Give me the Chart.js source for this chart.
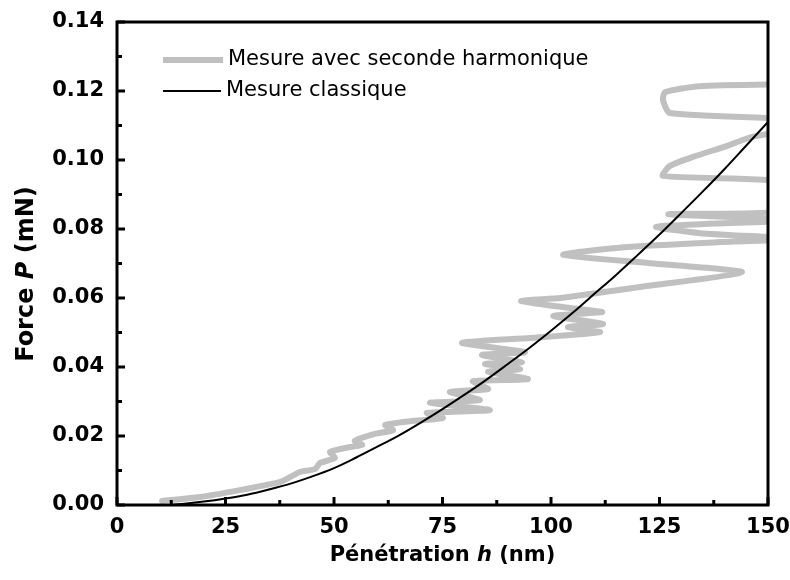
<!DOCTYPE html>
<html>
<head>
<meta charset="utf-8">
<script src="https://cdn.jsdelivr.net/npm/chart.js@4.4.1/dist/chart.umd.min.js"></script>
<style>
  html, body { margin: 0; padding: 0; background: #fff; }
</style>
</head>
<body>
<canvas id="chart" width="790" height="580"></canvas>
<script>
// axis ticks
const xTicks = [0, 25, 50, 75, 100, 125, 150];
const yTicks = [0, 0.02, 0.04, 0.06, 0.08, 0.10, 0.12, 0.14];

// "Mesure classique" (black curve)
const classicH = [12, 15, 20, 25, 30, 35, 40, 45, 50, 55, 60, 65, 70, 75, 80, 85, 90, 95,
                  100, 105, 110, 115, 120, 125, 130, 135, 140, 145, 150];
const classicP = [0.0000, 0.0003, 0.0010, 0.0019, 0.0030, 0.0045, 0.0062, 0.0083, 0.0107, 0.0137,
                  0.0169, 0.0202, 0.0239, 0.0278, 0.0319, 0.0362, 0.0408, 0.0455, 0.0505, 0.0557,
                  0.0612, 0.0667, 0.0725, 0.0784, 0.0846, 0.0909, 0.0974, 0.1042, 0.1110];

// "Mesure avec seconde harmonique" (grey curve), in time order
const harmH = [10.4, 19.1, 28.3, 37.6, 39.9, 42.2, 45.6, 46.8, 50.2, 49.1, 53.7, 56.5, 54.8, 59.4,
               63.6, 61.8, 67.5, 75.1, 71.4, 85.9, 72.1, 83.6, 76.7, 85.5, 82.0, 94.7, 85.5, 92.9,
               84.8, 93.3, 84.1, 94.0, 79.5, 95.2, 111.3, 103.9, 112.0, 100.5, 111.8, 104.4, 93.1,
               102.1, 120.5, 144.0, 122.8, 102.8, 117.5, 138.9, 157.4, 134.3, 124.2, 134.3, 157.4,
               127.0, 157.4, 157.4, 125.8, 127.4, 132.7, 140.6, 146.3, 157.4, 157.4, 127.4, 125.8,
               126.3, 134.3, 157.4];
const harmP = [0.0012, 0.0023, 0.0043, 0.0067, 0.0081, 0.0096, 0.0104, 0.0122, 0.0136, 0.0154,
               0.0168, 0.0174, 0.0186, 0.0206, 0.0217, 0.0232, 0.0243, 0.0252, 0.0267, 0.0275,
               0.0296, 0.0304, 0.0328, 0.0336, 0.0359, 0.0365, 0.0386, 0.0394, 0.0409, 0.0414,
               0.0435, 0.0443, 0.0470, 0.0484, 0.0501, 0.0516, 0.0525, 0.0548, 0.0559, 0.0571,
               0.0591, 0.0600, 0.0632, 0.0675, 0.0701, 0.0725, 0.0748, 0.0762, 0.0771, 0.0788,
               0.0806, 0.0814, 0.0826, 0.0843, 0.0855, 0.0933, 0.0954, 0.0983, 0.1009, 0.1041,
               0.1067, 0.1093, 0.1116, 0.1136, 0.1174, 0.1197, 0.1214, 0.1220];

const FONT = 'DejaVu Sans';

function toPoints(xs, ys) {
    return xs.map((v, i) => ({x: v, y: ys[i]}));
}

// draw a line of text made of several font parts, centred on (cx, cy)
function drawParts(ctx, parts, cx, cy) {
    let total = 0;
    parts.forEach(p => { ctx.font = p.font; p.w = ctx.measureText(p.text).width; total += p.w; });
    let x = cx - total / 2;
    ctx.textBaseline = 'middle';
    ctx.textAlign = 'left';
    parts.forEach(p => { ctx.font = p.font; ctx.fillText(p.text, x, cy); x += p.w; });
}

// frame, inward ticks, legend and axis titles
const decorations = {
    id: 'decorations',
    afterDatasetsDraw(chart) {
        const {ctx, chartArea: a, scales: {x, y}} = chart;
        ctx.save();
        ctx.strokeStyle = '#000';
        ctx.fillStyle = '#000';

        // inward ticks, minor ones halfway between the majors
        ctx.lineWidth = 3;
        ctx.beginPath();
        xTicks.forEach((v, i) => {
            const px = x.getPixelForValue(v);
            ctx.moveTo(px, a.bottom); ctx.lineTo(px, a.bottom - 8);
            if (i < xTicks.length - 1) {
                const m = x.getPixelForValue((v + xTicks[i + 1]) / 2);
                ctx.moveTo(m, a.bottom); ctx.lineTo(m, a.bottom - 5);
            }
        });
        yTicks.forEach((v, i) => {
            const py = y.getPixelForValue(v);
            ctx.moveTo(a.left, py); ctx.lineTo(a.left + 8, py);
            if (i < yTicks.length - 1) {
                const m = y.getPixelForValue((v + yTicks[i + 1]) / 2);
                ctx.moveTo(a.left, m); ctx.lineTo(a.left + 5, m);
            }
        });
        ctx.stroke();

        // box
        ctx.lineWidth = 3;
        ctx.strokeRect(a.left, a.top, a.right - a.left, a.bottom - a.top);

        // legend
        ctx.lineCap = 'butt';
        ctx.strokeStyle = '#c0c0c0';
        ctx.lineWidth = 6;
        ctx.beginPath(); ctx.moveTo(163, 60); ctx.lineTo(223, 60); ctx.stroke();
        ctx.strokeStyle = '#000';
        ctx.lineWidth = 2;
        ctx.beginPath(); ctx.moveTo(163, 91); ctx.lineTo(221, 91); ctx.stroke();
        ctx.font = '21px "' + FONT + '"';
        ctx.textAlign = 'left';
        ctx.textBaseline = 'middle';
        ctx.fillText('Mesure avec seconde harmonique', 228, 60);
        ctx.fillText('Mesure classique', 226, 91);

        // axis titles
        const b = 'bold 21px "' + FONT + '"';
        const bi = 'italic bold 21px "' + FONT + '"';
        drawParts(ctx, [{text: 'Pénétration ', font: b}, {text: 'h', font: bi}, {text: ' (nm)', font: b}],
                  (a.left + a.right) / 2, 556);
        ctx.save();
        ctx.translate(27, 274);
        ctx.rotate(-Math.PI / 2);
        const b2 = 'bold 24px "' + FONT + '"';
        const bi2 = 'italic bold 24px "' + FONT + '"';
        drawParts(ctx, [{text: 'Force ', font: b2}, {text: 'P', font: bi2}, {text: ' (mN)', font: b2}], 0, 0);
        ctx.restore();

        ctx.restore();
    }
};

Chart.defaults.font.family = FONT;
Chart.defaults.color = '#000';

new Chart(document.getElementById('chart'), {
    type: 'scatter',
    data: {
        datasets: [{
            label: 'Mesure classique',
            data: toPoints(classicH, classicP),
            showLine: true,
            borderColor: '#000',
            borderWidth: 2,
            pointRadius: 0,
            cubicInterpolationMode: 'monotone',
            order: 0
        }, {
            label: 'Mesure avec seconde harmonique',
            data: toPoints(harmH, harmP),
            showLine: true,
            borderColor: '#c0c0c0',
            borderWidth: 6,
            borderJoinStyle: 'round',
            borderCapStyle: 'round',
            pointRadius: 0,
            tension: 0.2,
            clip: 0,
            order: 1
        }]
    },
    options: {
        responsive: false,
        animation: false,
        devicePixelRatio: 1,
        layout: { padding: { left: 0, top: 22, right: 22, bottom: 0 } },
        plugins: { legend: { display: false }, tooltip: { enabled: false } },
        scales: {
            x: {
                type: 'linear',
                min: 0, max: 150,
                afterBuildTicks: s => { s.ticks = xTicks.map(v => ({value: v})); },
                afterFit: s => { s.height = 75; s.paddingLeft = 0; s.paddingRight = 0; },
                grid: { display: false, drawTicks: false },
                border: { display: false },
                ticks: { padding: 10, font: { size: 21, weight: 'bold' } }
            },
            y: {
                type: 'linear',
                min: 0, max: 0.14,
                afterBuildTicks: s => { s.ticks = yTicks.map(v => ({value: v})); },
                afterFit: s => { s.width = 117; s.paddingTop = 0; s.paddingBottom = 0; },
                grid: { display: false, drawTicks: false },
                border: { display: false },
                ticks: { padding: 13, font: { size: 21, weight: 'bold' }, callback: v => v.toFixed(2) }
            }
        }
    },
    plugins: [decorations]
});
</script>
</body>
</html>
